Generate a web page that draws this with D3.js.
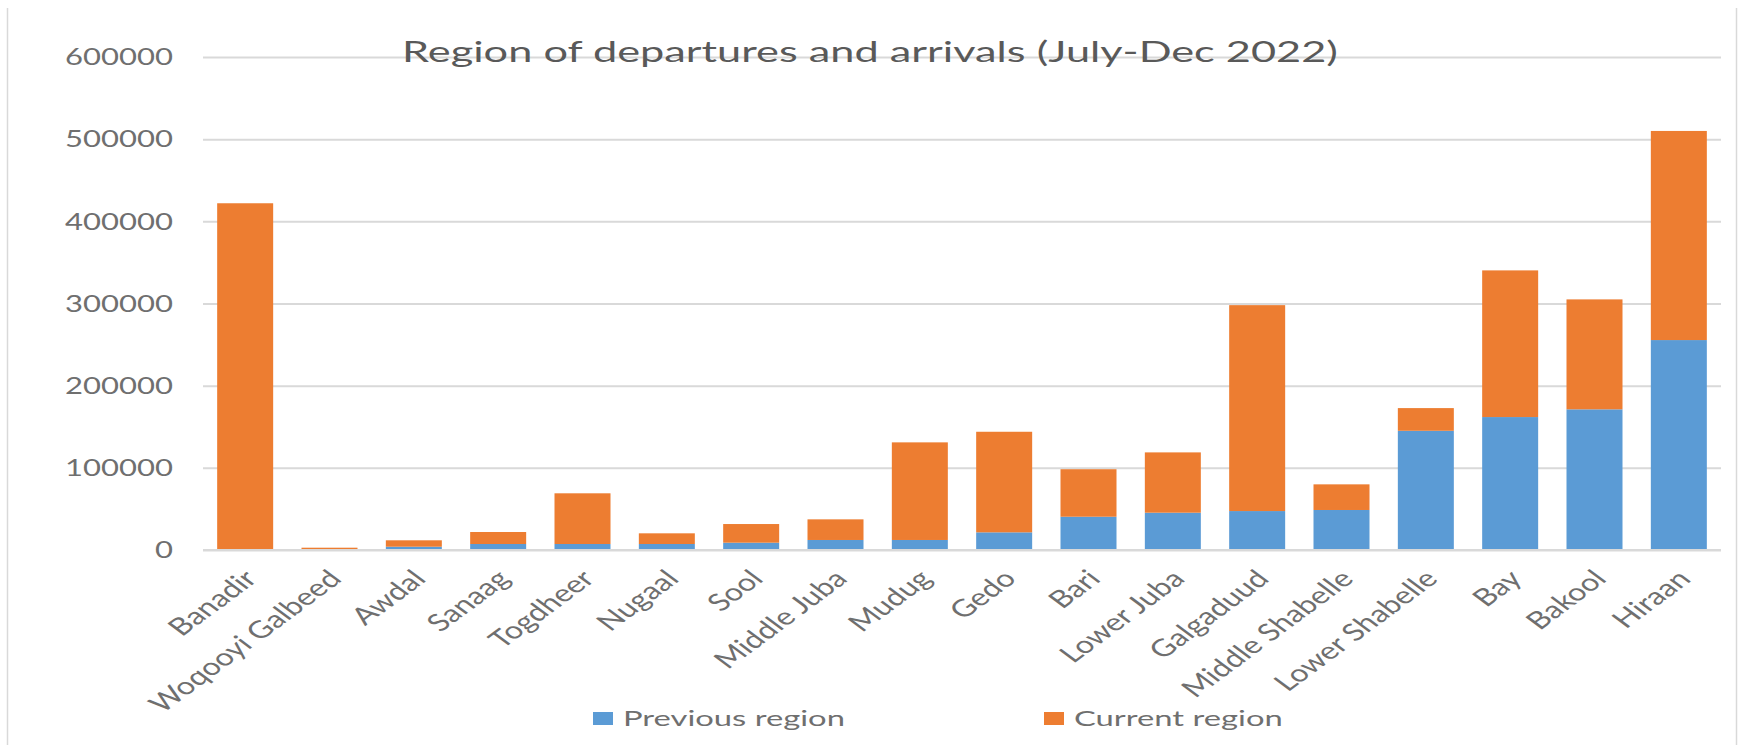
<!DOCTYPE html>
<html><head><meta charset="utf-8">
<script src="https://cdn.jsdelivr.net/npm/d3@7"></script>
<style>html,body{margin:0;padding:0;background:#fff;} svg{display:block;}</style>
</head><body>
<svg id="chart" width="1740" height="745"></svg>
<script>
// ---- data ----
const categories = ["Banadir","Woqooyi Galbeed","Awdal","Sanaag","Togdheer","Nugaal","Sool","Middle Juba","Mudug","Gedo","Bari","Lower Juba","Galgaduud","Middle Shabelle","Lower Shabelle","Bay","Bakool","Hiraan"];
const previousRegion = [0, 0, 4000, 7300, 7300, 7300, 8900, 12200, 12200, 21500, 40500, 45400, 47400, 48700, 145100, 161800, 171200, 255500];
const currentRegion  = [422000, 2800, 7800, 14600, 61700, 13000, 22700, 25100, 118800, 122400, 57800, 73400, 250600, 31200, 27600, 178500, 133800, 254500];
const yTicks = [0, 100000, 200000, 300000, 400000, 500000, 600000];
const seriesKeys = ["Previous region", "Current region"];
const seriesColors = ["#5B9BD5", "#ED7D31"];
const titleText = "Region of departures and arrivals (July-Dec 2022)";

// ---- layout ----
const W = 1740, H = 745;
const plot = {left: 203, right: 1721, top: 57, bottom: 550};
const FONT = "Lato, 'Open Sans', sans-serif";

const svg = d3.select("#chart");
svg.append("rect").attr("width", W).attr("height", H).attr("fill", "#fff");
// chart frame (left / right edges)
svg.append("line").attr("x1", 7.5).attr("x2", 7.5).attr("y1", 8).attr("y2", H).attr("stroke", "#d9d9d9").attr("stroke-width", 1.5);
svg.append("line").attr("x1", 1736.5).attr("x2", 1736.5).attr("y1", 8).attr("y2", H).attr("stroke", "#d9d9d9").attr("stroke-width", 1.5);

const x = d3.scaleBand().domain(categories).range([plot.left, plot.right]).paddingInner(0.336).paddingOuter(0.168);
const y = d3.scaleLinear().domain([0, 600000]).range([plot.bottom, plot.top]);

// gridlines
const grid = svg.append("g").attr("transform", `translate(${plot.left},0)`)
  .call(d3.axisLeft(y).tickValues(yTicks).tickSize(-(plot.right - plot.left)).tickFormat(""));
grid.select(".domain").remove();
grid.selectAll(".tick line").attr("stroke", "#d9d9d9").attr("stroke-width", 2);

// helper to stretch text horizontally to a target width
function stretchK(textNode, target) {
  const w = textNode.getComputedTextLength();
  return target / w;
}

// title
const title = svg.append("text").text(titleText)
  .attr("font-family", FONT).attr("font-size", 29).attr("fill", "#595959")
  .attr("text-anchor", "middle");
const kT = stretchK(title.node(), 936);
title.attr("transform", `translate(870,62) scale(${kT},1)`);

// y tick labels
const tickG = svg.append("g");
const tickTexts = tickG.selectAll("text").data(yTicks).join("text")
  .text(d => d3.format("d")(d))
  .attr("font-family", FONT).attr("font-size", 23).attr("fill", "#6f6f6f")
  .attr("text-anchor", "end").attr("dy", "0.36em");
const kY = stretchK(tickTexts.filter(d => d === 600000).node(), 108);
tickTexts.attr("transform", d => `translate(173,${y(d)}) scale(${kY},1)`);

// stacked bars
const rows = categories.map((c, i) => ({cat: c, "Previous region": previousRegion[i], "Current region": currentRegion[i]}));
const stacked = d3.stack().keys(seriesKeys)(rows);
const color = d3.scaleOrdinal().domain(seriesKeys).range(seriesColors);
svg.append("g").selectAll("g").data(stacked).join("g")
  .attr("fill", s => color(s.key))
  .selectAll("rect").data(s => s).join("rect")
  .attr("x", d => x(d.data.cat))
  .attr("width", x.bandwidth())
  .attr("y", d => y(d[1]))
  .attr("height", d => y(d[0]) - y(d[1]));

// axis baseline
svg.append("line").attr("x1", plot.left).attr("x2", plot.right).attr("y1", y(0)).attr("y2", y(0))
  .attr("stroke", "#d9d9d9").attr("stroke-width", 2);

// category labels (rotated, horizontally stretched)
svg.append("g").selectAll("text").data(categories).join("text")
  .text(d => d)
  .attr("font-family", FONT).attr("font-size", 24).attr("fill", "#6f6f6f")
  .attr("text-anchor", "end").attr("dy", "0.72em")
  .attr("transform", d => `translate(${x(d) + x.bandwidth() / 2 - 3},568) scale(${kY},1) rotate(-45)`);

// legend
const legendPos = [{sx: 593, tx: 623}, {sx: 1044, tx: 1074}];
const lg = svg.append("g");
let kL = 1;
seriesKeys.forEach((k, i) => {
  lg.append("rect").attr("x", legendPos[i].sx).attr("y", 712).attr("width", 20).attr("height", 13).attr("fill", seriesColors[i]);
  const t = lg.append("text").text(k).attr("font-family", FONT).attr("font-size", 21).attr("fill", "#6f6f6f");
  if (i === 0) kL = stretchK(t.node(), 222);
  t.attr("transform", `translate(${legendPos[i].tx},726) scale(${kL},1)`);
});
</script>
</body></html>
